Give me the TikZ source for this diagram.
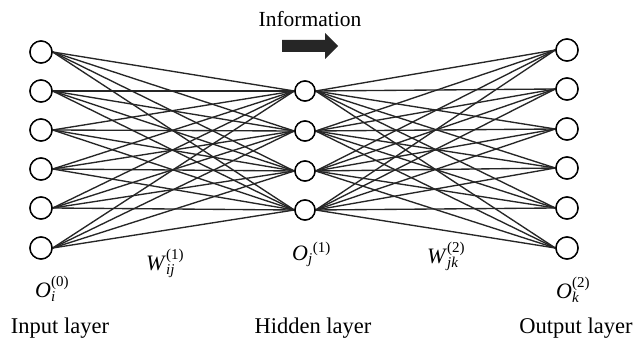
\documentclass[tikz,border=0pt]{standalone}
\usepackage{fontspec}
\setmainfont{Liberation Serif}
\begin{document}
\begin{tikzpicture}[x=1pt,y=-1pt,
  neuron/.style={draw, circle, line width=1.4pt, inner sep=0pt, minimum size=22pt, fill=white},
  hneuron/.style={neuron, minimum size=20pt},
  link/.style={line width=1.35pt, black!85},
  lbl/.style={inner sep=0pt, anchor=base west, font=\fontsize{22}{26}\selectfont},
  captxt/.style={inner sep=0pt, anchor=base, font=\fontsize{22.5}{26}\selectfont}]
\useasboundingbox (0,0) rectangle (637,339);
\fill[white] (0,0) rectangle (637,339);
% nodes
\foreach \y [count=\n] in {52,91,130,169,208,248}
  \node[neuron] (i\n) at (41,\y) {};
\foreach \y [count=\n] in {91,131,171,210}
  \node[hneuron] (h\n) at (305,\y) {};
\foreach \y [count=\n] in {50,89,129,168,208,248}
  \node[neuron] (o\n) at (567,\y) {};
% connections
\foreach \a in {1,...,6}
  \foreach \b in {1,...,4}
    \draw[link] (i\a.east) -- (h\b.west);
\foreach \b in {1,...,4}
  \foreach \c in {1,...,6}
    \draw[link] (h\b.east) -- (o\c.west);
% redraw nodes on top
\foreach \y [count=\n] in {52,91,130,169,208,248}
  \node[neuron] at (41,\y) {};
\foreach \y [count=\n] in {91,131,171,210}
  \node[hneuron] at (305,\y) {};
\foreach \y [count=\n] in {50,89,129,168,208,248}
  \node[neuron] at (567,\y) {};
% information arrow
\node[captxt, font=\fontsize{21.5}{25}\selectfont] (info) at (310,27) {Information};
\fill[black!85] (282,40) -- (325,40) -- (325,33) -- (338,46) -- (325,59) -- (325,52) -- (282,52) -- cycle;
% math labels
\newcommand{\smallt}[1]{\hbox{\fontsize{15}{15}\selectfont #1}}
\node[lbl] (oi) at (35,297) {\textit{O}$_{\smallt{\itshape i}}^{\smallt{(0)}}$};
\node[lbl] (wij) at (146,270) {\textit{W}$_{\smallt{\itshape ij}}^{\smallt{(1)}}$};
\node[lbl] (oj) at (292,260) {\textit{O}$_{\smallt{\itshape j}}{}^{\smallt{(1)}}$};
\node[lbl] (wjk) at (427,263) {\textit{W}$_{\smallt{\itshape jk}}^{\smallt{(2)}}$};
\node[lbl] (ok) at (556,298) {\textit{O}$_{\smallt{\itshape k}}^{\smallt{(2)}}$};
% layer captions
\node[captxt] (inl) at (60,333) {Input layer};
\node[captxt] (hil) at (313,333) {Hidden layer};
\node[captxt] (oul) at (576,333) {Output layer};
\end{tikzpicture}
\end{document}
